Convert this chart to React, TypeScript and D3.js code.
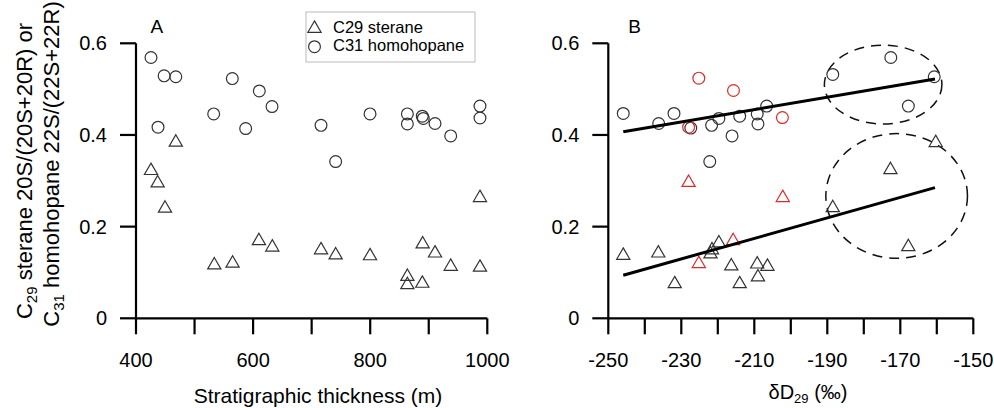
import React from "react";
import * as d3 from "d3";

// ---------- Panel A data ----------
const thicknessCircle = [425.6, 448, 468, 437.6, 532.7, 564.5, 587.3, 610.6, 632.3, 716, 741, 799.7, 863.5, 863.5, 889, 890.7, 910.7, 937.5, 987.5, 987.5];
const homohopaneA = [0.569, 0.529, 0.527, 0.417, 0.446, 0.523, 0.414, 0.496, 0.462, 0.421, 0.342, 0.446, 0.446, 0.424, 0.441, 0.436, 0.425, 0.398, 0.463, 0.437];
const thicknessTri = [425.6, 437, 449.5, 468, 533.7, 565, 609.9, 632.8, 716, 741, 799.7, 863.5, 863.5, 889, 889.6, 910.7, 937.5, 987.5, 987.5];
const steraneA = [0.322, 0.295, 0.24, 0.384, 0.116, 0.12, 0.169, 0.155, 0.149, 0.138, 0.136, 0.091, 0.073, 0.076, 0.162, 0.142, 0.113, 0.111, 0.263];

// ---------- Panel B data ----------
const dDCircleBlack = [-245.9, -236.2, -232.0, -227.4, -221.7, -219.7, -222.2, -216.1, -214.0, -209.2, -209.0, -206.6, -188.5, -172.6, -167.8, -160.7];
const homohopaneBBlack = [0.447, 0.425, 0.447, 0.415, 0.421, 0.436, 0.342, 0.398, 0.441, 0.446, 0.424, 0.463, 0.532, 0.569, 0.463, 0.527];
const dDCircleRed = [-225.2, -215.7, -228.0, -202.3];
const homohopaneBRed = [0.524, 0.497, 0.417, 0.438];
const dDTriBlack = [-245.9, -236.3, -231.8, -222.0, -221.6, -219.7, -216.3, -214.0, -209.2, -209.0, -206.4, -188.5, -172.7, -167.8, -160.3];
const steraneBBlack = [0.137, 0.142, 0.075, 0.14, 0.149, 0.164, 0.114, 0.075, 0.118, 0.09, 0.113, 0.241, 0.324, 0.156, 0.383];
const dDTriRed = [-228.0, -225.2, -215.8, -202.2];
const steraneBRed = [0.296, 0.119, 0.169, 0.263];

// regression lines (endpoints)
const fitX = [-245.9, -160.5];
const homohopaneFitY = [0.407, 0.522];
const steraneFitY = [0.094, 0.285];

// dashed ellipse annotations (data units)
const ellipseCX = [-174.7, -171.0];
const ellipseCY = [0.51, 0.267];
const ellipseRX = [16.1, 19.4];
const ellipseRY = [0.086, 0.136];

// ticks
const yTicks = [0, 0.2, 0.4, 0.6];
const yTickLabels = ["0", "0.2", "0.4", "0.6"];
const xTicksA = [400, 500, 600, 700, 800, 900, 1000];
const xLabelsA = [400, 600, 800, 1000];
const xTicksB = [-250, -240, -230, -220, -210, -200, -190, -180, -170, -160, -150];
const xLabelsB = [-250, -230, -210, -190, -170, -150];

const FONT = "'Liberation Sans', Arial, Helvetica, sans-serif";
const RED = "#dd2a2a";
const DARK = "#333";

const yScale = d3.scaleLinear().domain([0, 0.6]).range([318.3, 43.3]);
const xA = d3.scaleLinear().domain([400, 1000]).range([136, 487.3]);
const xB = d3.scaleLinear().domain([-250, -150]).range([608.3, 973.3]);

const triPath = "M0,-7.6L6.6,3.8L-6.6,3.8Z";

function Tri({ x, y, color }: { x: number; y: number; color: string }) {
  return <path d={triPath} transform={`translate(${x},${y})`} fill="none" stroke={color} strokeWidth={1.2} />;
}
function Circ({ x, y, color }: { x: number; y: number; color: string }) {
  return <circle cx={x} cy={y} r={5.9} fill="none" stroke={color} strokeWidth={1.2} />;
}

function Axes({ xs, ticks, labels }: { xs: d3.ScaleLinear<number, number>; ticks: number[]; labels: number[] }) {
  const x0 = xs.range()[0];
  const x1 = xs.range()[1];
  return (
    <g stroke="#000" strokeWidth={2.2} fill="none">
      <line x1={x0} x2={x0} y1={yScale(0.6)} y2={yScale(0)} />
      {yTicks.map((t) => (
        <line key={"y" + t} x1={x0 - 16} x2={x0} y1={yScale(t)} y2={yScale(t)} />
      ))}
      <line x1={x0} x2={x1} y1={yScale(0)} y2={yScale(0)} />
      {ticks.map((t) => (
        <line key={"x" + t} x1={xs(t)} x2={xs(t)} y1={yScale(0)} y2={yScale(0) + 16} />
      ))}
      <g stroke="none" fill="#000" fontFamily={FONT} fontSize={20}>
        {yTicks.map((t, i) => (
          <text key={"yl" + t} x={x0 - 29} y={yScale(t) + 7} textAnchor="end">
            {yTickLabels[i]}
          </text>
        ))}
        {labels.map((t) => (
          <text key={"xl" + t} x={xs(t)} y={366.5} textAnchor="middle">
            {String(t)}
          </text>
        ))}
      </g>
    </g>
  );
}

export default function App() {
  return (
    <svg width={994} height={408} style={{ position: "absolute", left: 0, top: 0, background: "#fff" }}>
      <rect x={0} y={0} width={994} height={408} fill="#fff" />
      {/* Y title */}
      <g fontFamily={FONT} fontSize={22} fill="#000">
        <text transform="translate(31.5,171) rotate(-90)" textAnchor="middle">
          C<tspan fontSize={15} dy={5}>29</tspan>
          <tspan dy={-5}> sterane 20S/(20S+20R) or</tspan>
        </text>
        <text transform="translate(59,164) rotate(-90)" textAnchor="middle">
          C<tspan fontSize={15} dy={5}>31</tspan>
          <tspan dy={-5}> homohopane 22S/(22S+22R)</tspan>
        </text>
      </g>

      {/* Panel A */}
      <Axes xs={xA} ticks={xTicksA} labels={xLabelsA} />
      <text x={150.5} y={33.3} fontFamily={FONT} fontSize={19}>A</text>
      {thicknessCircle.map((t, i) => (
        <Circ key={"ca" + i} x={xA(t)} y={yScale(homohopaneA[i])} color={DARK} />
      ))}
      {thicknessTri.map((t, i) => (
        <Tri key={"ta" + i} x={xA(t)} y={yScale(steraneA[i])} color={DARK} />
      ))}
      <text x={318} y={403} fontFamily={FONT} fontSize={21} textAnchor="middle">Stratigraphic thickness (m)</text>

      {/* Legend */}
      <rect x={306} y={12} width={169} height={50} fill="#fff" stroke="#bbb" strokeWidth={1} />
      <Tri x={314.5} y={28.5} color={DARK} />
      <Circ x={314.5} y={46.7} color={DARK} />
      <text x={333} y={32.5} fontFamily={FONT} fontSize={16.5}>C29 sterane</text>
      <text x={333} y={51} fontFamily={FONT} fontSize={16.5}>C31 homohopane</text>

      {/* Panel B */}
      <Axes xs={xB} ticks={xTicksB} labels={xLabelsB} />
      <text x={628.3} y={33.3} fontFamily={FONT} fontSize={19}>B</text>
      {ellipseCX.map((c, i) => (
        <ellipse
          key={"el" + i}
          cx={xB(c)}
          cy={yScale(ellipseCY[i])}
          rx={xB(c + ellipseRX[i]) - xB(c)}
          ry={yScale(0) - yScale(ellipseRY[i])}
          fill="none"
          stroke="#111"
          strokeWidth={1.5}
          strokeDasharray="10,7"
        />
      ))}
      {dDCircleBlack.map((t, i) => (
        <Circ key={"cb" + i} x={xB(t)} y={yScale(homohopaneBBlack[i])} color={DARK} />
      ))}
      {dDCircleRed.map((t, i) => (
        <Circ key={"cr" + i} x={xB(t)} y={yScale(homohopaneBRed[i])} color={RED} />
      ))}
      {dDTriBlack.map((t, i) => (
        <Tri key={"tb" + i} x={xB(t)} y={yScale(steraneBBlack[i])} color={DARK} />
      ))}
      {dDTriRed.map((t, i) => (
        <Tri key={"tr" + i} x={xB(t)} y={yScale(steraneBRed[i])} color={RED} />
      ))}
      <line x1={xB(fitX[0])} x2={xB(fitX[1])} y1={yScale(homohopaneFitY[0])} y2={yScale(homohopaneFitY[1])} stroke="#000" strokeWidth={3} />
      <line x1={xB(fitX[0])} x2={xB(fitX[1])} y1={yScale(steraneFitY[0])} y2={yScale(steraneFitY[1])} stroke="#000" strokeWidth={3} />
      <text x={808} y={399} fontFamily={FONT} fontSize={20} textAnchor="middle">
        δD<tspan fontSize={13} dy={4}>29</tspan>
        <tspan dy={-4}> (‰)</tspan>
      </text>
    </svg>
  );
}
